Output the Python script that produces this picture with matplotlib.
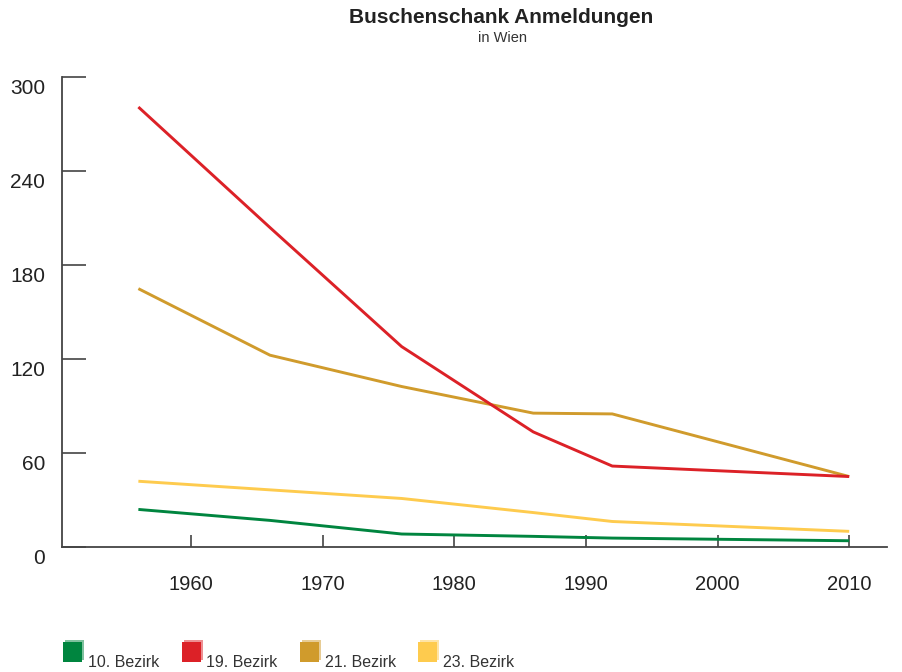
import matplotlib
matplotlib.use("Agg")
import matplotlib.pyplot as plt
import matplotlib.patches as mpatches
import matplotlib.transforms as mtransforms
from matplotlib.legend_handler import HandlerBase

plt.rcParams["font.family"] = ["Liberation Sans", "DejaVu Sans"]

# data
years = [1956, 1966, 1976, 1986, 1992, 2010]
bezirk_10 = [24, 17, 8.3, 6.8, 5.7, 4]
bezirk_19 = [281, 204, 128, 73.5, 51.7, 45]
bezirk_21 = [165, 122.5, 102.5, 85.5, 85, 45]
bezirk_23 = [42, 36.5, 31, 22, 16.3, 10]

series = [
    ("10. Bezirk", bezirk_10, "#00853F"),
    ("19. Bezirk", bezirk_19, "#DC2127"),
    ("21. Bezirk", bezirk_21, "#D09B2C"),
    ("23. Bezirk", bezirk_23, "#FECB4E"),
]
y_ticks = [0, 60, 120, 180, 240, 300]
x_ticks = [1960, 1970, 1980, 1990, 2000, 2010]

AXIS = "#444444"
TEXT = "#222222"


class ShadowSquare(HandlerBase):
    # square legend key with a lighter copy peeking out top-right
    def create_artists(self, legend, orig, xd, yd, w, h, fontsize, trans):
        col = orig.get_facecolor()
        back = mpatches.Rectangle((xd + 1.5, yd + 1.5), w, h, facecolor=col,
                                  alpha=0.5, edgecolor="none", transform=trans)
        front = mpatches.Rectangle((xd, yd), w, h, facecolor=col,
                                   edgecolor="none", transform=trans)
        return [back, front]


fig = plt.figure(figsize=(9.03, 6.72), dpi=100)
ax = fig.add_axes([0.0687, 0.186, 0.914, 0.699])

# red drawn last so it sits on top of gold where they cross
for name, vals, col in [series[0], series[3], series[2], series[1]]:
    ax.plot(years, vals, color=col, linewidth=2.1, solid_capstyle="butt", zorder=3)

ax.set_xlim(1950.2, 2012.9)
ax.set_ylim(0, 300)
ax.set_xticks(x_ticks)
ax.set_yticks(y_ticks)
ax.tick_params(axis="y", direction="in", length=17, width=1.2, color=AXIS,
               labelsize=15, labelcolor=TEXT, pad=12)
ax.tick_params(axis="x", direction="in", length=9, width=1.2, color=AXIS,
               labelsize=14.5, labelcolor=TEXT, pad=20)
down = mtransforms.ScaledTranslation(0, -9 / 100, fig.dpi_scale_trans)
for lab in ax.get_yticklabels():
    lab.set_transform(lab.get_transform() + down)
for s in ("top", "right"):
    ax.spines[s].set_visible(False)
for s in ("left", "bottom"):
    ax.spines[s].set_color(AXIS)
    ax.spines[s].set_linewidth(1.3)

fig.text(0.555, 0.974, "Buschenschank Anmeldungen", ha="center", va="center",
         fontsize=15, fontweight="bold", color=TEXT)
fig.text(0.557, 0.944, "in Wien", ha="center", va="center",
         fontsize=10.5, color="#333333")

handles = [mpatches.Patch(facecolor=c, edgecolor="none", label=n) for n, _, c in series]
fig.legend(handles=handles, loc="lower left", bbox_to_anchor=(0.054, -0.022),
           ncol=4, frameon=False, fontsize=11.5, handlelength=1.2, handleheight=1.6,
           handletextpad=0.35, columnspacing=1.4, labelcolor="#333333",
           handler_map={mpatches.Patch: ShadowSquare()})

fig.savefig("out.png", dpi=100, facecolor="white")
